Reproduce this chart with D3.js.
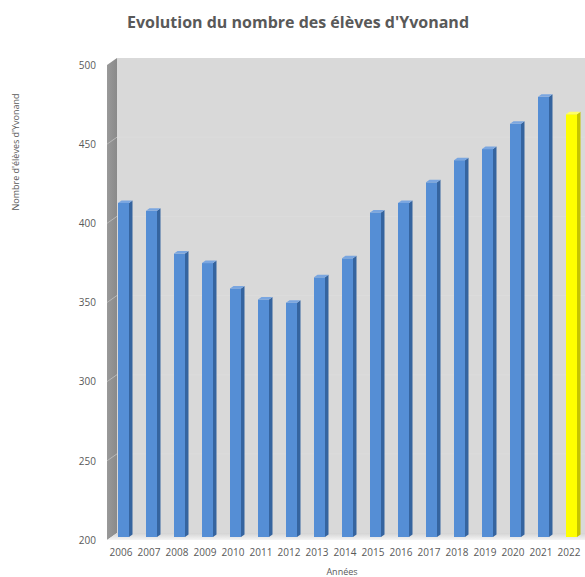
<!DOCTYPE html>
<html>
<head>
    <script src="https://d3js.org/d3.v7.min.js"></script>
    <style>
        body { margin: 0; background: #fff; font-family: "Open Sans", Arial, sans-serif; }
        svg { display: block; }
    </style>
</head>
<body>
    <svg width="585" height="577"></svg>
    <script>
        // data
        const years = ["2006","2007","2008","2009","2010","2011","2012","2013","2014",
                       "2015","2016","2017","2018","2019","2020","2021","2022"];
        const eleves = [411, 406, 379, 373, 357, 350, 348, 364, 376, 405, 411, 424, 438, 445, 461, 478, 467];
        const yTicks = [200, 250, 300, 350, 400, 450, 500];
        const highlight = "2022";

        const svg = d3.select("svg");
        const txt = "#595959";

        // front plane scales, depth offset for the 3D walls
        const x = d3.scaleBand().domain(years).range([107, 583]).padding(0);
        const y = d3.scaleLinear().domain([200, 500]).range([540, 65]);
        const depth = {dx: 10, dy: -7};

        const defs = svg.append("defs");
        const floorGrad = defs.append("linearGradient").attr("id", "floor")
            .attr("x1", 0).attr("y1", 0).attr("x2", 0).attr("y2", 1);
        floorGrad.append("stop").attr("offset", "0%").attr("stop-color", "#d4d4d4");
        floorGrad.append("stop").attr("offset", "100%").attr("stop-color", "#f4f4f4");
        const sideGrad = defs.append("linearGradient").attr("id", "side")
            .attr("x1", 0).attr("y1", 0).attr("x2", 1).attr("y2", 0);
        sideGrad.append("stop").attr("offset", "0%").attr("stop-color", "#999999");
        sideGrad.append("stop").attr("offset", "100%").attr("stop-color", "#8a8a8a");

        const x0 = x.range()[0], x1 = 600;
        // back wall
        svg.append("rect")
            .attr("x", x0 + depth.dx).attr("y", y(500) + depth.dy)
            .attr("width", x1 - x0).attr("height", y(200) - y(500))
            .attr("fill", "#d9d9d9");
        // side wall
        svg.append("polygon")
            .attr("points", [[x0, y(500)], [x0 + depth.dx, y(500) + depth.dy],
                             [x0 + depth.dx, y(200) + depth.dy], [x0, y(200)]].join(" "))
            .attr("fill", "url(#side)");
        // floor
        svg.append("polygon")
            .attr("points", [[x0, y(200)], [x0 + depth.dx, y(200) + depth.dy],
                             [x1 + depth.dx, y(200) + depth.dy], [x1, y(200)]].join(" "))
            .attr("fill", "url(#floor)");

        // gridlines: side wall + back wall
        const grid = svg.append("g");
        yTicks.filter(t => t > 200 && t < 500).forEach(t => {
            grid.append("line")
                .attr("x1", x0).attr("y1", y(t))
                .attr("x2", x0 + depth.dx).attr("y2", y(t) + depth.dy)
                .attr("stroke", "#b8b8b8").attr("stroke-width", 1);
            grid.append("line")
                .attr("x1", x0 + depth.dx).attr("y1", y(t) + depth.dy)
                .attr("x2", x1).attr("y2", y(t) + depth.dy)
                .attr("stroke", "#dcdcdc").attr("stroke-width", 1);
        });

        // y axis labels
        const yAxis = svg.append("g").attr("transform", "translate(96,0)")
            .call(d3.axisLeft(y).tickValues(yTicks).tickSize(0).tickPadding(0));
        yAxis.select(".domain").remove();
        yAxis.selectAll("text").attr("fill", txt).style("font-size", "10px")
            .style("font-family", "'Open Sans', Arial, sans-serif");

        // x axis labels
        const xAxis = svg.append("g").attr("transform", "translate(0,549)")
            .call(d3.axisBottom(x).tickSize(0).tickPadding(0));
        xAxis.select(".domain").remove();
        xAxis.selectAll("text").attr("fill", txt).style("font-size", "10px")
            .style("font-family", "'Open Sans', Arial, sans-serif");

        // bars (front face, side, top cap)
        const bw = 11, bd = {dx: 3.5, dy: -2.5}, off = {dx: 2.5, dy: -3};
        const bars = svg.append("g").selectAll("g")
            .data(years.map((yr, i) => ({year: yr, v: eleves[i]})))
            .join("g");

        const colors = d => d.year === highlight
            ? {front: "#ffff00", side: "#c4c400", top: "#ffff66"}
            : {front: "#558ed5", side: "#35649f", top: "#7aa6e0"};

        bars.each(function(d) {
            const g = d3.select(this);
            const c = colors(d);
            const left = x(d.year) + x.bandwidth() / 2 - bw / 2 + off.dx;
            const top = y(d.v) + off.dy;
            const bottom = y(200) + off.dy;
            g.append("polygon")
                .attr("points", [[left + bw, top], [left + bw + bd.dx, top + bd.dy],
                                 [left + bw + bd.dx, bottom + bd.dy], [left + bw, bottom]].join(" "))
                .attr("fill", c.side);
            g.append("rect")
                .attr("x", left).attr("y", top)
                .attr("width", bw).attr("height", bottom - top)
                .attr("fill", c.front);
            g.append("polygon")
                .attr("points", [[left, top], [left + bd.dx, top + bd.dy],
                                 [left + bw + bd.dx, top + bd.dy], [left + bw, top]].join(" "))
                .attr("fill", c.top);
        });

        // titles
        svg.append("text")
            .attr("x", 298).attr("y", 28)
            .attr("text-anchor", "middle")
            .attr("fill", txt)
            .style("font-size", "16px").style("font-weight", "bold")
            .text("Evolution du nombre des élèves d'Yvonand");

        svg.append("text")
            .attr("transform", "translate(19,152) rotate(-90)")
            .attr("text-anchor", "middle")
            .attr("fill", txt)
            .style("font-size", "9px")
            .text("Nombre d'élèves d'Yvonand");

        svg.append("text")
            .attr("x", 342).attr("y", 575)
            .attr("text-anchor", "middle")
            .attr("fill", txt)
            .style("font-size", "9px")
            .text("Années");
    </script>
</body>
</html>
